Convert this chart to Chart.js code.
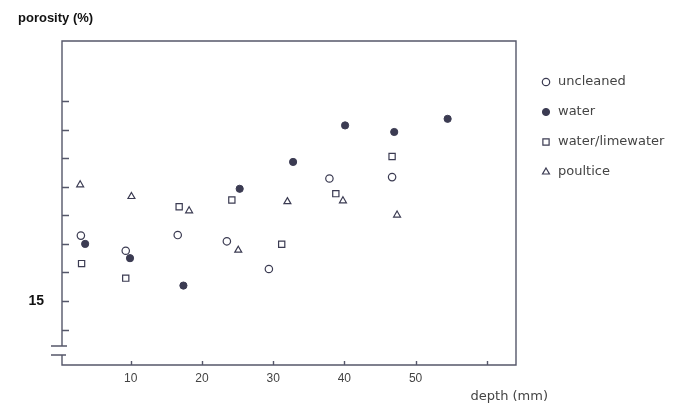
<!DOCTYPE html>
<html>
<head>
<meta charset="utf-8">
<script src="https://cdn.jsdelivr.net/npm/chart.js@4.4.0/dist/chart.umd.min.js"></script>
<style>
  html, body { margin: 0; padding: 0; background: #fff; }
  #wrap { position: relative; width: 673px; height: 405px; }
</style>
</head>
<body>
<div id="wrap"><canvas id="chart" width="673" height="405"></canvas></div>
<script>
// depth (mm), porosity (%)
const uncleaned = [[3.0, 17.29], [9.3, 16.76], [16.6, 17.31], [23.5, 17.09], [29.4, 16.12], [37.9, 19.29], [46.7, 19.34]];
const water = [[3.6, 17.0], [9.9, 16.5], [17.4, 15.54], [25.3, 18.93], [32.8, 19.87], [40.1, 21.15], [47.0, 20.92], [54.5, 21.38]];
const limewater = [[3.1, 16.31], [9.3, 15.8], [16.8, 18.3], [24.2, 18.54], [31.2, 16.99], [38.8, 18.76], [46.7, 20.06]];
const poultice = [[2.9, 19.07], [10.1, 18.66], [18.2, 18.16], [25.1, 16.78], [32.0, 18.48], [39.8, 18.51], [47.4, 18.01]];

const seriesNames = ['uncleaned', 'water', 'water/limewater', 'poultice'];
const xTicks = [10, 20, 30, 40, 50, 60];
const xLabels = ['10', '20', '30', '40', '50', ''];
const yTicks = [14, 15, 16, 17, 18, 19, 20, 21, 22];
const yLabels = { 15: '15' };

const INK = '#3b3b52';
const AXIS = '#55576a';

const toPts = arr => arr.map(p => ({ x: p[0], y: p[1] }));

// frame with axis break, inward ticks, legend and axis texts
const framePlugin = {
  id: 'frame',
  afterDraw(chart) {
    const { ctx, chartArea: a, scales } = chart;
    const xs = scales.x, ys = scales.y;
    const brkTop = 346, brkBot = 355;
    ctx.save();
    ctx.strokeStyle = AXIS;
    ctx.lineWidth = 1.4;
    ctx.beginPath();
    ctx.moveTo(a.left, brkTop);
    ctx.lineTo(a.left, a.top);
    ctx.lineTo(a.right, a.top);
    ctx.lineTo(a.right, a.bottom);
    ctx.lineTo(a.left, a.bottom);
    ctx.lineTo(a.left, brkBot);
    // break marks
    ctx.moveTo(a.left - 11, brkTop);
    ctx.lineTo(a.left + 5, brkTop);
    ctx.moveTo(a.left - 11, brkBot);
    ctx.lineTo(a.left + 4, brkBot);
    yTicks.forEach(v => {
      const py = Math.round(ys.getPixelForValue(v)) + 0.5;
      ctx.moveTo(a.left, py);
      ctx.lineTo(a.left + 7, py);
    });
    xTicks.forEach(v => {
      const px = Math.round(xs.getPixelForValue(v)) + 0.5;
      ctx.moveTo(px, a.bottom);
      ctx.lineTo(px, a.bottom - 4);
    });
    ctx.stroke();

    ctx.fillStyle = '#111';
    ctx.font = 'bold 13px "Liberation Sans", Arial, sans-serif';
    ctx.textAlign = 'left';
    ctx.textBaseline = 'middle';
    ctx.fillText('porosity (%)', 18, 18);

    ctx.fillStyle = '#444';
    ctx.font = '13px "DejaVu Sans", sans-serif';
    ctx.textAlign = 'right';
    ctx.fillText('depth (mm)', 548, 397);

    // legend
    const rows = [82, 112, 142, 172];
    ctx.textAlign = 'left';
    chart.data.datasets.forEach((ds, i) => {
      ctx.strokeStyle = ds.borderColor;
      ctx.fillStyle = ds.backgroundColor;
      ctx.lineWidth = ds.borderWidth;
      Chart.helpers.drawPoint(ctx, { pointStyle: ds.pointStyle, radius: ds.pointRadius, borderWidth: ds.borderWidth }, 546, rows[i]);
      ctx.fillStyle = '#444';
      ctx.fillText(seriesNames[i], 558, rows[i]);
    });
    ctx.restore();
  }
};

new Chart(document.getElementById('chart'), {
  type: 'scatter',
  data: {
    datasets: [
      { label: seriesNames[0], data: toPts(uncleaned), pointStyle: 'circle', pointRadius: 3.7, borderWidth: 1.2, borderColor: INK, backgroundColor: '#fff' },
      { label: seriesNames[1], data: toPts(water), pointStyle: 'circle', pointRadius: 3.6, borderWidth: 1, borderColor: INK, backgroundColor: INK },
      { label: seriesNames[2], data: toPts(limewater), pointStyle: 'rect', pointRadius: 4.4, borderWidth: 1.2, borderColor: INK, backgroundColor: '#fff' },
      { label: seriesNames[3], data: toPts(poultice), pointStyle: 'triangle', pointRadius: 4, borderWidth: 1.2, borderColor: INK, backgroundColor: '#fff' }
    ]
  },
  options: {
    responsive: false,
    animation: false,
    layout: { padding: { top: 41, right: 157, bottom: 0, left: 0 } },
    plugins: { legend: { display: false }, tooltip: { enabled: false } },
    scales: {
      x: {
        type: 'linear',
        min: 0.35,
        max: 64.1,
        afterFit: s => { s.height = 40; },
        afterBuildTicks: s => { s.ticks = xTicks.map(v => ({ value: v })); },
        grid: { display: false, drawTicks: false },
        border: { display: false },
        ticks: {
          padding: 6,
          color: '#444',
          font: { family: '"Liberation Sans", Arial, sans-serif', size: 12 },
          callback: v => xLabels[xTicks.indexOf(v)] ?? ''
        }
      },
      y: {
        type: 'linear',
        min: 12.758,
        max: 24.107,
        afterFit: s => { s.width = 62; },
        afterBuildTicks: s => { s.ticks = yTicks.map(v => ({ value: v })); },
        grid: { display: false, drawTicks: false },
        border: { display: false },
        ticks: {
          padding: 18,
          color: '#111',
          font: { family: '"Liberation Sans", Arial, sans-serif', size: 14, weight: 'bold' },
          callback: v => yLabels[v] || ''
        }
      }
    }
  },
  plugins: [framePlugin]
});
</script>
</body>
</html>
